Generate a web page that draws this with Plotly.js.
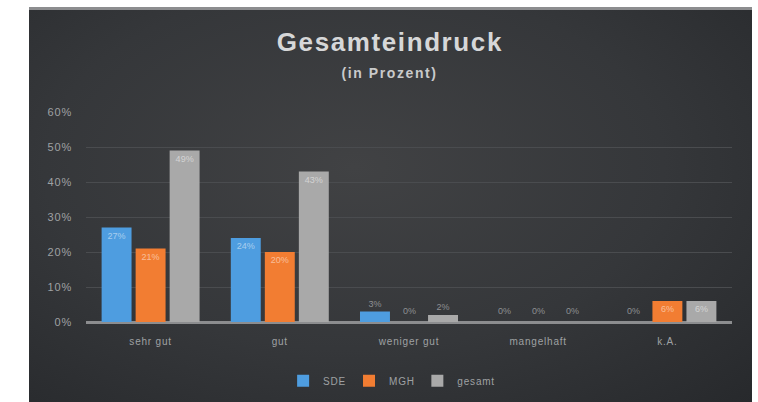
<!DOCTYPE html>
<html>
<head>
<meta charset="utf-8">
<script src="https://cdn.plot.ly/plotly-3.0.1.min.js"></script>
<style>
  html, body { margin: 0; padding: 0; background: #ffffff; }
  #frame {
    position: absolute; left: 29px; top: 7px; width: 723px; height: 395px;
    border-top: 3px solid #8c8d8f; box-sizing: border-box;
    background: radial-gradient(ellipse at 45% 40%, #414244 0%, #35373a 55%, #27292c 100%);
  }
  #chart { width: 723px; height: 392px; }
  #chart .xtick text, #chart .ytick text, #chart .legendtext { letter-spacing: 0.8px; }
  #chart .annotation[data-index="0"] text, #chart .annotation[data-index="1"] text { letter-spacing: 1.6px; }
</style>
</head>
<body>
<div id="frame"><div id="chart"></div></div>
<script>
// Werte (Prozent)
const categories = ['sehr gut', 'gut', 'weniger gut', 'mangelhaft', 'k.A.'];
const sde = [27, 24, 3, 0, 0];
const mgh = [21, 20, 0, 0, 6];
const gesamt = [49, 43, 2, 0, 6];
const yTicks = [0, 10, 20, 30, 40, 50, 60];

const labelFont = 'Liberation Sans, Arial, sans-serif';

function makeTrace(name, values, color) {
  return {
    type: 'bar',
    name: name,
    x: categories,
    y: values,
    marker: { color: color },
    text: values.map(v => v + '%'),
    textposition: 'auto',
    insidetextanchor: 'end',
    insidetextfont: { color: 'rgba(255,255,255,0.5)', size: 9 },
    outsidetextfont: { color: '#8e9093', size: 9 },
    cliponaxis: false,
    hoverinfo: 'skip'
  };
}

const series = [sde, mgh, gesamt];
const data = [
  makeTrace('SDE', sde, '#4e9de0'),
  makeTrace('MGH', mgh, '#f27d32'),
  makeTrace('gesamt', gesamt, '#a9a9a9')
];

// 0%-Beschriftungen (Plotly zeichnet keinen Text auf Balken der Höhe 0)
const zeroLabels = [];
series.forEach((vals, s) => {
  vals.forEach((v, i) => {
    if (v === 0) {
      zeroLabels.push({
        x: categories[i], y: 0, xref: 'x', yref: 'y',
        text: '0%', showarrow: false, yanchor: 'bottom', yshift: 4,
        xshift: (s - 1) * 34,
        font: { size: 9, color: '#8e9093', family: labelFont }
      });
    }
  });
});

const layout = {
  width: 723,
  height: 392,
  margin: { l: 57, r: 20, t: 102, b: 80 },
  paper_bgcolor: 'rgba(0,0,0,0)',
  plot_bgcolor: 'rgba(0,0,0,0)',
  font: { family: labelFont, color: '#9fa1a3', size: 10 },
  barmode: 'group',
  bargap: 0.21,
  bargroupgap: 0.12,
  showlegend: true,
  legend: {
    orientation: 'h', x: 0.47, xanchor: 'center',
    yref: 'container', y: 0.054, yanchor: 'middle',
    font: { size: 10, color: '#9fa1a3' }, itemwidth: 30
  },
  xaxis: {
    automargin: false,
    showgrid: false, showline: false, ticks: '', zeroline: false,
    ticklabelstandoff: 12,
    tickfont: { size: 10, color: '#9fa1a3' }
  },
  yaxis: {
    automargin: false,
    range: [0, 60],
    tickvals: yTicks,
    ticktext: yTicks.map(v => v + '%'),
    gridcolor: '#4a4c4f', gridwidth: 1,
    zeroline: true, zerolinecolor: '#8c8d8f', zerolinewidth: 3,
    showline: false, ticks: '',
    ticklabelstandoff: 13,
    tickfont: { size: 11, color: '#9fa1a3' }
  },
  annotations: [
    {
      text: '<b>Gesamteindruck</b>', xref: 'paper', yref: 'paper', x: 0.47, y: 1.333,
      xanchor: 'center', yanchor: 'middle', showarrow: false,
      font: { size: 26, color: '#d6d7d8', family: labelFont }
    },
    {
      text: '<b>(in Prozent)</b>', xref: 'paper', yref: 'paper', x: 0.47, y: 1.186,
      xanchor: 'center', yanchor: 'middle', showarrow: false,
      font: { size: 14, color: '#c9cacb', family: labelFont }
    }
  ].concat(zeroLabels)
};

Plotly.newPlot('chart', data, layout, { displayModeBar: false, staticPlot: true });
</script>
</body>
</html>
